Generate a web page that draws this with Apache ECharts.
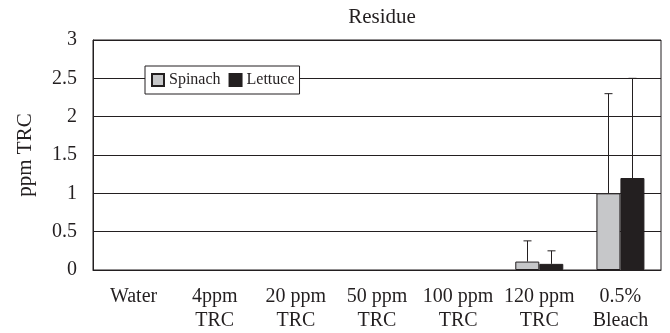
<!DOCTYPE html>
<html>
<head>
<meta charset="utf-8">
<script src="https://cdn.jsdelivr.net/npm/echarts@6/dist/echarts.min.js"></script>
<style>
  html, body { margin: 0; padding: 0; background: #fff; }
  #chart { width: 670px; height: 333px; }
</style>
</head>
<body>
<div id="chart"></div>
<script>
const categories = ['Water', '4ppm\nTRC', '20 ppm\nTRC', '50 ppm\nTRC', '100 ppm\nTRC', '120 ppm\nTRC', '0.5%\nBleach']
const spinach = [0, 0, 0, 0, 0, 0.11, 1.0]
const lettuce = [0, 0, 0, 0, 0, 0.08, 1.2]
// upper error (value + sd), only the ones that show
const spinachErr = [null, null, null, null, null, 0.38, 2.3]
const lettuceErr = [null, null, null, null, null, 0.25, 2.5]
const yTicks = [0, 0.5, 1, 1.5, 2, 2.5, 3]

const ink = '#231f20'
const font = 'Liberation Serif'
const barW = 24

// zero bars: no outline, otherwise they show as a thick line on the axis
const barData = (vals) => vals.map((v) => (v === 0 ? { value: 0, itemStyle: { borderWidth: 0 } } : v))

function errorSeries(name, vals, errs, offset) {
  return {
    name: name + ' err',
    type: 'custom',
    z: 5,
    data: vals.map((v, i) => [i, v, errs[i]]),
    renderItem: (params, api) => {
      if (api.value(2) == null || isNaN(api.value(2))) return
      const base = api.coord([api.value(0), api.value(1)])
      const top = api.coord([api.value(0), api.value(2)])
      const x = Math.round(base[0] + offset) + 0.5
      return {
        type: 'group',
        children: [
          { type: 'line', shape: { x1: x, y1: base[1], x2: x, y2: top[1] }, style: { stroke: ink, lineWidth: 1 } },
          { type: 'line', shape: { x1: x - 4, y1: top[1], x2: x + 4, y2: top[1] }, style: { stroke: ink, lineWidth: 1 } },
        ],
      }
    },
  }
}

const chart = echarts.init(document.getElementById('chart'))
chart.setOption({
  animation: false,
  textStyle: { fontFamily: font, color: ink },
  title: {
    text: 'Residue',
    left: 377,
    textAlign: 'center',
    top: 2,
    textStyle: { fontFamily: font, fontSize: 21, fontWeight: 'normal', color: ink },
  },
  legend: {
    data: ['Spinach', 'Lettuce'],
    left: 145,
    top: 66,
    padding: [6, 5, 6, 6],
    itemWidth: 12,
    itemHeight: 12,
    itemGap: 8,
    icon: 'rect',
    borderColor: ink,
    borderWidth: 1,
    backgroundColor: '#fff',
    textStyle: { fontFamily: font, fontSize: 16, color: ink },
  },
  grid: {
    left: 93,
    right: 9,
    top: 40,
    bottom: 62,
    show: true,
    borderColor: ink,
    borderWidth: 1,
  },
  xAxis: {
    type: 'category',
    data: categories,
    axisLine: { lineStyle: { color: ink, width: 1 } },
    axisTick: { inside: true, length: 6, lineStyle: { color: ink } },
    axisLabel: {
      fontFamily: font,
      fontSize: 20,
      color: ink,
      lineHeight: 24,
      margin: 15,
      interval: 0,
    },
  },
  yAxis: {
    type: 'value',
    min: yTicks[0],
    max: yTicks[yTicks.length - 1],
    interval: 0.5,
    name: 'ppm TRC',
    nameLocation: 'middle',
    nameGap: 57,
    nameTextStyle: { fontFamily: font, fontSize: 21, color: ink },
    axisLine: { show: true, lineStyle: { color: ink, width: 1 } },
    axisTick: { show: false },
    axisLabel: { fontFamily: font, fontSize: 20, color: ink, margin: 16 },
    splitLine: { lineStyle: { color: ink, width: 1 } },
  },
  series: [
    {
      name: 'Spinach',
      type: 'bar',
      data: barData(spinach),
      barWidth: barW,
      barGap: '0%',
      itemStyle: { color: '#c6c7c9', borderColor: ink, borderWidth: 1 },
    },
    {
      name: 'Lettuce',
      type: 'bar',
      data: barData(lettuce),
      barWidth: barW,
      barGap: '0%',
      itemStyle: { color: ink, borderColor: ink, borderWidth: 1 },
    },
    errorSeries('Spinach', spinach, spinachErr, -barW / 2),
    errorSeries('Lettuce', lettuce, lettuceErr, barW / 2),
  ],
})
</script>
</body>
</html>
